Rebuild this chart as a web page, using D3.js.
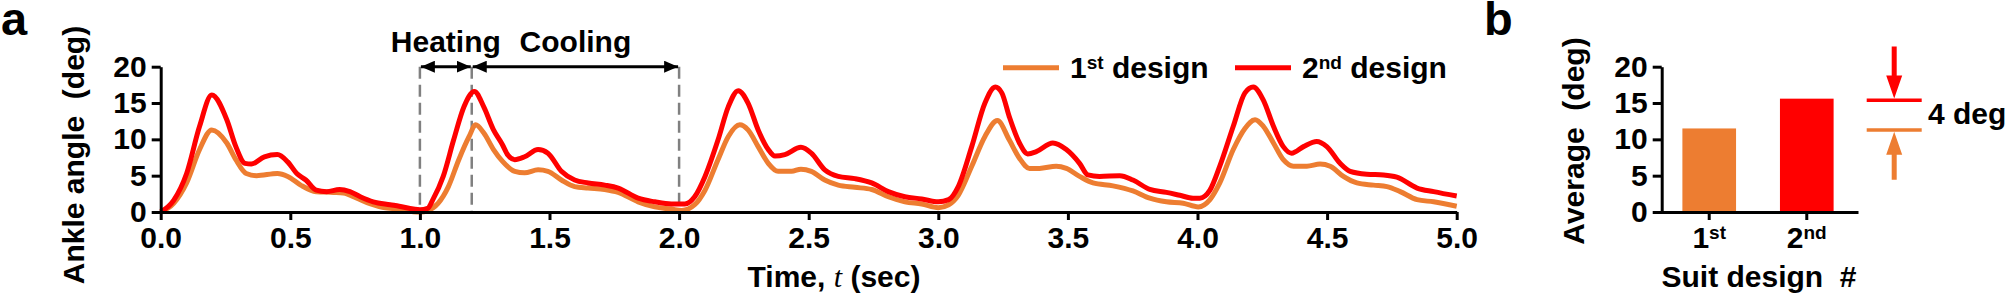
<!DOCTYPE html>
<html><head><meta charset="utf-8">
<script src="https://cdn.jsdelivr.net/npm/d3@7"></script>
<style>
html,body{margin:0;padding:0;background:#fff;}
svg{display:block;font-family:"Liberation Sans",Arial,sans-serif;font-weight:bold;}
</style></head><body>
<svg id="chart" width="2010" height="296"></svg>
<script>
// ---------- data ----------
const timeRed = [0.000,0.050,0.100,0.150,0.197,0.255,0.290,0.325,0.350,0.400,0.450,0.490,0.525,0.560,0.600,0.640,0.690,0.730,0.770,0.820,0.885,0.920,0.975,1.000,1.030,1.050,1.090,1.130,1.170,1.210,1.246,1.284,1.318,1.340,1.366,1.404,1.456,1.494,1.546,1.597,1.649,1.713,1.765,1.842,1.906,1.970,2.022,2.060,2.100,2.150,2.190,2.228,2.266,2.305,2.344,2.370,2.408,2.470,2.510,2.562,2.614,2.678,2.743,2.807,2.871,2.936,3.000,3.040,3.077,3.129,3.180,3.220,3.245,3.274,3.313,3.345,3.378,3.442,3.494,3.545,3.577,3.622,3.700,3.751,3.816,3.880,3.932,3.983,4.009,4.048,4.086,4.138,4.183,4.215,4.254,4.293,4.331,4.363,4.409,4.460,4.499,4.550,4.589,4.653,4.718,4.769,4.847,4.911,5.000];
const angleRed = [0.0,1.6,5.3,11.8,16.1,12.7,9.0,6.7,6.6,7.6,7.9,6.9,5.3,4.4,3.0,2.8,3.1,2.8,2.1,1.4,1.0,0.8,0.4,0.3,0.5,1.7,4.9,9.9,14.5,16.6,14.5,11.3,9.3,7.8,7.2,7.6,8.6,8.1,5.6,4.4,4.0,3.7,3.3,1.9,1.4,1.1,1.1,2.1,4.9,9.9,14.5,16.7,15.0,11.3,8.6,7.7,7.9,8.9,8.1,5.8,4.9,4.6,4.0,2.8,2.1,1.8,1.4,1.7,3.5,9.0,15.0,17.2,16.4,13.1,9.5,8.0,8.3,9.5,8.6,6.7,5.1,4.9,5.0,4.4,3.1,2.7,2.3,1.9,1.9,3.0,6.3,11.8,16.4,17.2,15.4,11.8,9.0,8.1,9.0,9.7,9.0,6.7,5.6,5.2,5.1,4.8,3.3,2.8,2.2];
const timeOrange = [0.000,0.050,0.100,0.150,0.197,0.255,0.290,0.330,0.370,0.450,0.490,0.540,0.600,0.667,0.705,0.757,0.810,0.860,0.920,0.975,1.000,1.030,1.070,1.110,1.150,1.190,1.215,1.246,1.284,1.318,1.366,1.404,1.456,1.494,1.546,1.597,1.649,1.713,1.765,1.842,1.906,1.970,2.010,2.060,2.100,2.150,2.190,2.234,2.266,2.305,2.344,2.382,2.434,2.470,2.510,2.562,2.614,2.678,2.743,2.807,2.871,2.936,3.000,3.040,3.077,3.129,3.180,3.228,3.274,3.313,3.352,3.390,3.455,3.494,3.545,3.597,3.674,3.751,3.816,3.880,3.945,4.003,4.048,4.086,4.138,4.183,4.222,4.254,4.293,4.331,4.370,4.422,4.473,4.512,4.563,4.615,4.679,4.731,4.782,4.847,4.911,5.000];
const angleOrange = [0.0,1.2,4.0,8.6,11.3,9.5,7.2,5.3,5.0,5.3,4.9,3.7,2.8,2.7,2.6,1.9,1.1,0.6,0.4,0.05,0.0,0.2,1.2,3.5,7.2,10.4,12.0,10.9,8.6,7.0,5.6,5.4,5.8,5.6,4.4,3.5,3.3,3.1,2.7,1.4,0.7,0.4,0.2,1.0,3.0,7.2,10.4,12.0,11.3,9.0,6.7,5.6,5.6,5.9,5.6,4.4,3.7,3.4,3.1,2.1,1.4,1.1,0.6,1.0,2.3,6.3,10.4,12.6,9.9,7.4,6.0,6.0,6.3,6.0,4.9,4.0,3.6,2.9,1.9,1.4,1.2,0.7,1.7,4.0,8.6,11.5,12.7,11.8,9.5,7.2,6.3,6.3,6.6,6.3,4.9,4.0,3.7,3.5,2.8,1.7,1.4,0.8];
const xTicks = [0,0.5,1,1.5,2,2.5,3,3.5,4,4.5,5];
const yTicks = [0,5,10,15,20];
const phaseBounds = [1.0,1.2,2.0];
const phaseLabels = ["Heating","Cooling"];
const legendNames = [["1","st"," design"],["2","nd"," design"]];
const designs = ["1st","2nd"];
const designParts = [["1","st"],["2","nd"]];
const averages = [11.5,15.6];
const diffLabel = "4 deg";
const ORANGE = "#ED7D31", RED = "#FF0000";

// ---------- setup ----------
const svg = d3.select("#chart");
svg.append("defs").append("marker")
  .attr("id","ah").attr("markerUnits","userSpaceOnUse")
  .attr("viewBox","0 0 14 12").attr("refX",14).attr("refY",6)
  .attr("markerWidth",14).attr("markerHeight",12).attr("orient","auto-start-reverse")
  .append("path").attr("d","M0,0L14,6L0,12Z").attr("fill","#000");

const x = d3.scaleLinear().domain([0,5]).range([160.7,1456.7]);
const y = d3.scaleLinear().domain([0,20]).range([212,66.7]);

function styleAxis(g){
  g.attr("font-family",null).attr("font-size",null);
  g.select(".domain").attr("stroke","#000").attr("stroke-width",3);
  g.selectAll(".tick line").attr("stroke","#000").attr("stroke-width",3);
  g.selectAll(".tick text").attr("fill","#000").style("font-size","30px").style("font-weight","bold");
}

// ---------- panel a ----------
svg.append("text").attr("x",1).attr("y",35).style("font-size","47px").text("a");

svg.selectAll(".phase").data(phaseBounds).join("line").attr("class","phase")
  .attr("x1",d=>x(d)).attr("x2",d=>x(d)).attr("y1",y(20)).attr("y2",y(0))
  .attr("stroke","#808080").attr("stroke-width",2.5).attr("stroke-dasharray","12,6");

phaseLabels.forEach((lab,i)=>{
  const a = x(phaseBounds[i]), b = x(phaseBounds[i+1]);
  svg.append("line").attr("x1",a+1).attr("x2",b-1).attr("y1",y(20)).attr("y2",y(20))
    .attr("stroke","#000").attr("stroke-width",3)
    .attr("marker-start","url(#ah)").attr("marker-end","url(#ah)");
  svg.append("text").attr("x",(a+b)/2).attr("y",52).attr("text-anchor","middle")
    .style("font-size","30px").text(lab);
});

const line = d3.line().x(d=>x(d[0])).y(d=>y(d[1])).curve(d3.curveMonotoneX);
const orangePts = timeOrange.map((t,i)=>[t,angleOrange[i]]);
const redPts = timeRed.map((t,i)=>[t,angleRed[i]]);
svg.append("path").datum(orangePts).attr("d",line).attr("fill","none")
  .attr("stroke",ORANGE).attr("stroke-width",5).attr("stroke-linejoin","round");
svg.append("path").datum(redPts).attr("d",line).attr("fill","none")
  .attr("stroke",RED).attr("stroke-width",5).attr("stroke-linejoin","round");

const gxa = svg.append("g").attr("transform",`translate(0,${y(0)})`)
  .call(d3.axisBottom(x).tickValues(xTicks).tickFormat(d3.format(".1f")).tickSize(8).tickSizeOuter(0).tickPadding(7));
styleAxis(gxa);
const gya = svg.append("g").attr("transform",`translate(${x(0)},0)`)
  .call(d3.axisLeft(y).tickValues(yTicks).tickSize(9).tickSizeOuter(0).tickPadding(5));
styleAxis(gya);

svg.append("text").attr("transform","translate(83.5,155) rotate(-90)")
  .attr("text-anchor","middle").style("font-size","30px").style("white-space","pre")
  .text("Ankle angle  (deg)");

const tl = svg.append("text").attr("x",834).attr("y",287).attr("text-anchor","middle").style("font-size","30px");
tl.append("tspan").text("Time, ");
tl.append("tspan").style("font-family","'Liberation Serif',serif").style("font-style","italic").style("font-weight","normal").text("t");
tl.append("tspan").text(" (sec)");

// legend
const legX = [1003,1235];
const legC = [ORANGE,RED];
legendNames.forEach((p,i)=>{
  svg.append("line").attr("x1",legX[i]).attr("x2",legX[i]+56).attr("y1",67.7).attr("y2",67.7)
    .attr("stroke",legC[i]).attr("stroke-width",5);
  const t = svg.append("text").attr("x",legX[i]+67).attr("y",77.5).style("font-size","30px");
  t.append("tspan").text(p[0]);
  t.append("tspan").attr("dy",-9).style("font-size","19px").text(p[1]);
  t.append("tspan").attr("dy",9).style("white-space","pre").text(p[2]);
});

// ---------- panel b ----------
svg.append("text").attr("x",1484).attr("y",35).style("font-size","47px").text("b");

const xb = d3.scaleBand().domain(designs).range([1658,1858]).paddingInner(0.45).paddingOuter(0.25);
const yb = d3.scaleLinear().domain([0,20]).range([212,66.7]);

svg.selectAll(".bar").data(designs).join("rect").attr("class","bar")
  .attr("x",d=>xb(d)).attr("width",xb.bandwidth())
  .attr("y",(d,i)=>yb(averages[i])).attr("height",(d,i)=>yb(0)-yb(averages[i]))
  .attr("fill",(d,i)=>i===0?ORANGE:RED);

const gxb = svg.append("g").attr("transform",`translate(0,${yb(0)})`)
  .call(d3.axisBottom(xb).tickSize(8).tickSizeOuter(0).tickPadding(7));
styleAxis(gxb);
gxb.selectAll(".tick text").each(function(d,i){
  const t = d3.select(this).text("");
  t.append("tspan").text(designParts[i][0]);
  t.append("tspan").attr("dy",-9).style("font-size","19px").text(designParts[i][1]);
});
const gyb = svg.append("g").attr("transform","translate(1661.7,0)")
  .call(d3.axisLeft(yb).tickValues(yTicks).tickSize(9).tickSizeOuter(0).tickPadding(5));
styleAxis(gyb);

svg.append("text").attr("transform","translate(1583.5,141) rotate(-90)")
  .attr("text-anchor","middle").style("font-size","30px").style("white-space","pre")
  .text("Average  (deg)");
svg.append("text").attr("x",1759).attr("y",287).attr("text-anchor","middle")
  .style("font-size","30px").style("white-space","pre").text("Suit design  #");

// difference annotation
const ax0 = 1866.7, ax1 = 1921.7, acx = (ax0+ax1)/2;
const yHi = yb(averages[1]) + 1.5, yLo = yb(averages[0]) + 1.5;
svg.append("line").attr("x1",ax0).attr("x2",ax1).attr("y1",yHi).attr("y2",yHi).attr("stroke",RED).attr("stroke-width",3.5);
svg.append("line").attr("x1",ax0).attr("x2",ax1).attr("y1",yLo).attr("y2",yLo).attr("stroke",ORANGE).attr("stroke-width",3.5);
function arrow(tipY, dir, len, color){
  const hl = 23, hw = 8, sw = 2.5;
  const base = tipY - dir*hl, tail = tipY - dir*len;
  const p = d3.path();
  p.moveTo(acx-sw, tail); p.lineTo(acx+sw, tail); p.lineTo(acx+sw, base);
  p.lineTo(acx+hw, base); p.lineTo(acx, tipY); p.lineTo(acx-hw, base);
  p.lineTo(acx-sw, base); p.closePath();
  svg.append("path").attr("d",p.toString()).attr("fill",color);
}
arrow(yHi-1.75, 1, 52, RED);
arrow(yLo+1.75, -1, 48, ORANGE);
svg.append("text").attr("x",1928).attr("y",124).style("font-size","30px").text(diffLabel);
</script>
</body></html>
